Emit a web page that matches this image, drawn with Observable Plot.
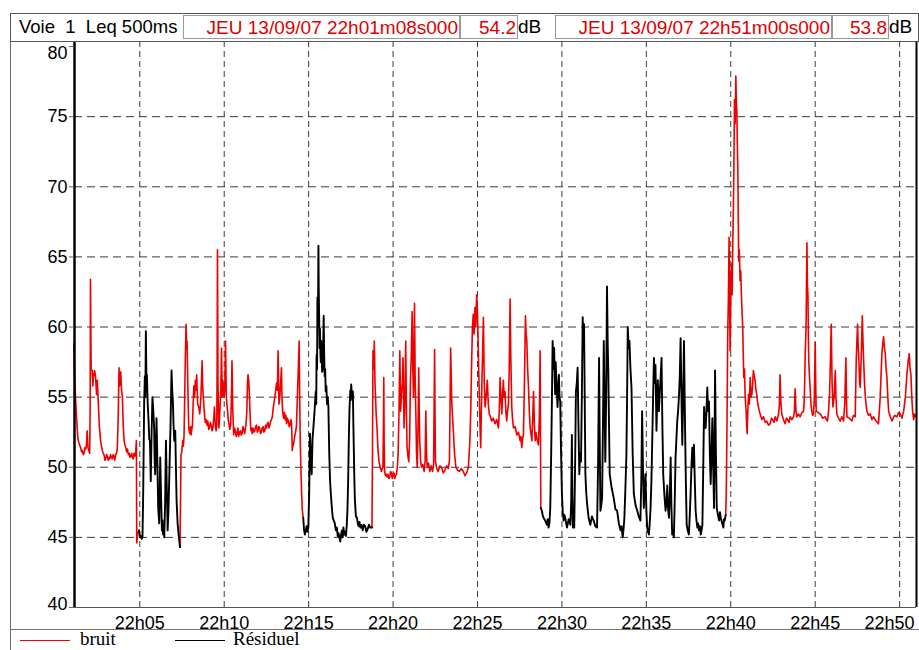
<!DOCTYPE html>
<html>
<head>
<meta charset="utf-8">
<script src="https://cdn.jsdelivr.net/npm/d3@7"></script>
<script src="https://cdn.jsdelivr.net/npm/@observablehq/plot@0.6"></script>
<style>
  html, body { margin: 0; padding: 0; background: #fff; }
  #wrap { position: relative; width: 919px; height: 650px; overflow: hidden; font-family: 'Liberation Sans', Arial, sans-serif; }
  #frameL { position: absolute; left: 10px; top: 13px; width: 0; height: 640px; border-left: 1.5px solid #666; }
  #header { position: absolute; left: 10px; top: 13px; width: 907px; height: 27px; border: 1.5px solid #555; background: #fff; font-size: 19px; }
  .cell { position: absolute; top: 1px; height: 24px; line-height: 24px; white-space: nowrap; overflow: hidden; box-sizing: border-box; }
  .box { border: 1px solid #999; }
  .red { color: #e00000; text-align: right; padding-right: 1px; }
  #plot { position: absolute; left: 0; top: 41px; }
  #sep { position: absolute; left: 10px; top: 629px; width: 909px; height: 0; border-top: 1.5px solid #777; }
  .leg { position: absolute; top: 629px; font-family: 'Liberation Serif', 'Times New Roman', serif; font-size: 19px; line-height: 20px; }
  .legline { position: absolute; top: 640px; height: 0; border-top: 1.5px solid; }
</style>
</head>
<body>
<div id="wrap">
  <div id="frameL"></div>
  <div id="plot"></div>
  <div id="header"></div>
  <div id="sep"></div>
  <div id="legend"></div>
</div>
<script>
// ---- header texts ----
const channelLabel = "Voie\u00a0\u00a01\u00a0\u00a0Leq 500ms";
const startStamp = "JEU 13/09/07 22h01m08s000";
const startLevel = "54.2";
const endStamp = "JEU 13/09/07 22h51m00s000";
const endLevel = "53.8";
const unit = "dB";

// ---- axes ----
const xStart = 1 + 8 / 60;   // 22h01m08s (minutes after 22h00)
const xEnd = 51;             // 22h51m00s
const xTicks = [5, 10, 15, 20, 25, 30, 35, 40, 45, 50];
const yTicks = [40, 45, 50, 55, 60, 65, 70, 75, 80];
const yGrid = [45, 50, 55, 60, 65, 70, 75];

// ---- legend ----
const seriesNames = ["bruit", "Résiduel"];
const seriesColors = ["#ee0000", "#000000"];

// ---- measured Leq 500 ms: [minutes after 22h00, dB], in time order ----
const bruit1 = [[1.09,58.8],[1.15,56.2],[1.19,55.0],[1.25,53.6],[1.33,52.1],[1.38,51.8],[1.43,51.6],[1.50,51.4],[1.55,51.1],[1.59,51.2],[1.65,50.9],[1.70,51.0],[1.75,51.4],[1.80,51.3],[1.85,51.7],[1.88,52.6],[1.93,51.4],[1.98,51.2],[2.03,51.0],[2.06,54.0],[2.08,63.4],[2.10,60.0],[2.12,57.0],[2.18,56.9],[2.22,55.8],[2.25,56.4],[2.32,56.9],[2.38,56.5],[2.44,55.2],[2.48,56.2],[2.54,54.7],[2.60,53.0],[2.68,51.9],[2.73,51.5],[2.78,51.2],[2.83,51.0],[2.88,50.9],[2.93,50.5],[2.98,50.6],[3.03,50.9],[3.08,50.8],[3.13,50.5],[3.18,50.7],[3.22,50.6],[3.27,50.9],[3.32,50.7],[3.37,50.6],[3.42,50.9],[3.47,50.8],[3.52,50.5],[3.57,50.9],[3.62,51.0],[3.67,51.3],[3.72,53.5],[3.77,57.1],[3.80,55.8],[3.82,56.0],[3.87,56.8],[3.92,55.5],[3.97,55.0],[4.02,53.0],[4.07,51.9],[4.12,51.6],[4.17,51.4],[4.22,51.1],[4.27,51.3],[4.32,50.9],[4.37,51.0],[4.42,50.7],[4.47,50.8],[4.52,51.0],[4.56,50.7],[4.61,50.6],[4.66,51.0],[4.71,50.8],[4.76,51.1],[4.80,51.9],[4.82,44.6],[4.88,45.3],[4.96,45.5]];
const residuel1 = [[4.96,45.5],[5.01,45.0],[5.06,45.1],[5.11,44.9],[5.16,45.0],[5.20,48.0],[5.26,54.7],[5.30,56.5],[5.33,55.0],[5.36,59.7],[5.40,55.5],[5.42,56.6],[5.47,54.5],[5.52,53.3],[5.56,52.0],[5.60,51.9],[5.65,49.0],[5.70,52.5],[5.75,55.0],[5.80,54.0],[5.85,52.8],[5.88,50.5],[5.91,49.5],[5.95,51.0],[5.99,53.5],[6.04,50.5],[6.09,47.1],[6.15,46.0],[6.21,50.7],[6.26,48.0],[6.31,45.5],[6.35,46.2],[6.38,45.2],[6.42,45.8],[6.45,45.0],[6.50,47.5],[6.55,51.9],[6.60,48.5],[6.65,45.5],[6.70,47.0],[6.75,49.5],[6.82,53.0],[6.88,56.9],[6.92,55.5],[6.96,54.7],[7.00,53.0],[7.04,51.9],[7.10,52.6],[7.14,50.0],[7.18,47.6],[7.24,46.0],[7.30,45.2],[7.38,44.3]];
const bruit2 = [[7.38,44.3],[7.42,48.5],[7.44,50.9],[7.49,51.1],[7.54,51.9],[7.58,51.5],[7.62,52.2],[7.66,55.0],[7.70,58.0],[7.74,60.2],[7.77,58.5],[7.80,59.0],[7.85,55.5],[7.90,52.8],[7.94,52.5],[7.97,52.4],[8.01,52.9],[8.04,52.3],[8.08,52.7],[8.12,53.0],[8.16,54.5],[8.20,55.8],[8.25,55.0],[8.29,56.2],[8.33,55.5],[8.37,56.6],[8.43,54.5],[8.49,54.3],[8.55,53.8],[8.62,55.0],[8.69,57.6],[8.72,56.0],[8.76,55.0],[8.83,53.8],[8.88,53.2],[8.93,53.4],[8.98,53.0],[9.03,53.3],[9.08,52.7],[9.13,52.8],[9.18,53.2],[9.23,53.0],[9.28,52.6],[9.33,52.8],[9.38,53.5],[9.42,54.3],[9.47,53.0],[9.52,52.6],[9.56,53.0],[9.58,57.0],[9.60,65.5],[9.62,60.0],[9.63,56.0],[9.68,52.8],[9.72,53.5],[9.76,54.5],[9.80,55.5],[9.84,58.5],[9.88,55.0],[9.92,56.2],[9.96,55.3],[10.00,55.0],[10.04,56.0],[10.08,59.0],[10.12,55.2],[10.16,54.5],[10.20,54.0],[10.24,53.4],[10.28,53.1],[10.33,52.7],[10.38,53.0],[10.42,54.5],[10.46,57.6],[10.51,54.0],[10.56,52.3],[10.61,52.8],[10.66,52.6],[10.71,52.2],[10.76,52.4],[10.81,52.8],[10.86,52.2],[10.91,52.5],[10.96,52.6],[11.01,52.3],[11.06,52.4],[11.11,52.9],[11.16,52.7],[11.21,52.4],[11.26,52.8],[11.30,53.2],[11.34,54.0],[11.38,56.0],[11.41,56.6],[11.45,56.2],[11.48,55.5],[11.52,54.2],[11.55,53.3],[11.58,52.6],[11.62,52.8],[11.66,52.4],[11.71,52.8],[11.76,52.5],[11.81,52.6],[11.86,52.9],[11.91,53.0],[11.96,52.5],[12.00,52.6],[12.05,52.9],[12.10,52.8],[12.15,52.4],[12.20,52.5],[12.25,52.8],[12.30,52.9],[12.35,52.5],[12.40,52.6],[12.45,53.0],[12.50,52.8],[12.55,53.1],[12.60,53.2],[12.65,52.8],[12.70,53.0],[12.75,53.3],[12.80,53.4],[12.85,53.6],[12.90,54.2],[12.95,54.6],[13.00,55.0],[13.05,55.5],[13.10,56.0],[13.15,55.5],[13.19,58.3],[13.22,56.0],[13.24,54.5],[13.29,55.0],[13.34,56.0],[13.39,57.1],[13.42,55.0],[13.46,54.0],[13.50,53.6],[13.53,53.5],[13.57,53.9],[13.61,53.4],[13.65,53.7],[13.69,53.1],[13.74,53.5],[13.80,53.3],[13.85,52.9],[13.90,53.0],[13.95,53.4],[13.99,53.1],[14.03,51.2],[14.06,51.5],[14.10,51.6],[14.15,52.0],[14.19,52.3],[14.24,52.6],[14.28,53.0],[14.32,54.5],[14.36,56.0],[14.40,57.5],[14.44,59.0],[14.47,55.0],[14.50,52.0],[14.54,50.0],[14.58,48.3],[14.62,47.0],[14.68,46.4]];
const residuel2 = [[14.68,46.4],[14.73,45.5],[14.78,45.2],[14.83,45.5],[14.88,45.8],[14.93,45.4],[14.98,45.7],[15.03,48.0],[15.08,52.4],[15.13,50.5],[15.18,49.5],[15.23,52.0],[15.28,52.8],[15.35,54.0],[15.42,55.4],[15.45,54.5],[15.47,58.0],[15.50,57.0],[15.52,62.1],[15.55,60.0],[15.58,65.8],[15.60,62.5],[15.62,61.0],[15.65,58.5],[15.67,59.9],[15.70,58.0],[15.72,57.5],[15.75,59.0],[15.77,58.1],[15.80,56.8],[15.83,57.0],[15.86,58.5],[15.89,60.8],[15.92,58.0],[15.95,56.5],[15.98,57.0],[16.01,55.4],[16.05,55.8],[16.09,54.5],[16.13,55.0],[16.17,54.3],[16.22,51.0],[16.27,49.0],[16.31,48.2],[16.35,47.5],[16.39,46.9],[16.43,46.4],[16.49,46.2],[16.55,46.0],[16.61,45.5],[16.67,45.7],[16.72,45.1],[16.77,45.3],[16.82,45.0],[16.87,44.7],[16.92,45.2],[16.97,45.5],[17.02,45.0],[17.06,45.7],[17.11,45.2],[17.16,45.4],[17.21,45.1],[17.26,45.9],[17.30,47.0],[17.34,49.0],[17.38,52.0],[17.42,54.2],[17.47,55.5],[17.50,54.8],[17.52,55.9],[17.57,55.0],[17.62,55.4],[17.65,53.0],[17.68,51.0],[17.71,49.0],[17.74,47.6],[17.80,46.5],[17.86,46.4],[17.91,46.0],[17.96,45.8],[18.01,46.1],[18.06,45.7],[18.13,45.9],[18.20,45.5],[18.27,45.9],[18.35,45.8],[18.42,45.4],[18.50,45.6],[18.57,45.9],[18.65,45.7],[18.75,45.7]];
const bruit3 = [[18.75,45.7],[18.78,50.7],[18.81,58.3],[18.85,57.0],[18.89,59.0],[18.93,56.0],[18.97,54.7],[19.01,53.5],[19.05,52.8],[19.11,51.2],[19.17,50.4],[19.24,50.0],[19.31,49.7],[19.36,49.9],[19.40,50.0],[19.43,53.0],[19.45,56.4],[19.47,52.0],[19.50,49.7],[19.55,49.4],[19.60,49.5],[19.65,49.3],[19.70,49.5],[19.75,49.2],[19.80,49.3],[19.85,49.7],[19.90,49.6],[19.95,49.2],[20.00,49.5],[20.05,49.6],[20.10,49.2],[20.15,49.4],[20.20,49.5],[20.25,50.0],[20.30,50.9],[20.35,54.0],[20.40,58.3],[20.45,54.0],[20.50,55.2],[20.55,56.0],[20.59,57.8],[20.65,52.8],[20.70,55.0],[20.75,59.0],[20.79,54.0],[20.83,51.4],[20.88,50.8],[20.93,50.4],[20.98,52.0],[21.03,56.2],[21.08,58.0],[21.13,61.1],[21.17,57.0],[21.21,55.0],[21.24,58.0],[21.27,61.7],[21.31,56.0],[21.35,53.8],[21.39,51.0],[21.43,50.0],[21.48,53.0],[21.52,57.1],[21.55,54.0],[21.58,51.9],[21.63,50.5],[21.68,50.0],[21.76,50.2],[21.84,49.7],[21.90,50.5],[21.94,54.0],[21.98,51.0],[22.02,50.0],[22.10,50.3],[22.18,49.7],[22.26,50.1],[22.34,49.7],[22.40,50.2],[22.46,58.4],[22.49,53.0],[22.51,50.4],[22.59,49.9],[22.67,49.7],[22.77,50.1],[22.87,50.0],[22.97,49.6],[23.07,49.8],[23.17,50.1],[23.27,49.9],[23.34,50.5],[23.41,58.5],[23.48,54.5],[23.56,52.8],[23.64,51.0],[23.72,50.0],[23.82,49.8],[23.92,49.7],[24.04,49.9],[24.16,49.7],[24.26,49.4],[24.36,49.6],[24.46,50.0],[24.55,51.9],[24.60,54.0],[24.65,57.3],[24.70,60.0],[24.75,60.9],[24.80,59.5],[24.85,61.4],[24.90,60.0],[24.95,62.3],[25.00,61.0],[25.03,59.5],[25.07,57.0],[25.11,55.0],[25.15,53.0],[25.19,51.4],[25.23,54.0],[25.27,56.6],[25.31,58.5],[25.35,60.7],[25.40,56.0],[25.45,54.3],[25.51,55.0],[25.58,56.2],[25.64,54.5],[25.70,53.8],[25.77,53.6],[25.84,53.3],[25.94,53.5],[26.04,53.1],[26.14,53.4],[26.24,52.8],[26.29,54.0],[26.34,56.4],[26.39,55.0],[26.44,53.8],[26.48,55.0],[26.53,56.2],[26.58,55.0],[26.63,55.4],[26.68,54.0],[26.73,53.3],[26.78,54.0],[26.83,54.5],[26.88,57.0],[26.93,62.0],[26.97,58.0],[27.03,54.3],[27.08,53.4],[27.13,52.8],[27.23,52.9],[27.33,52.3],[27.43,52.5],[27.52,51.9],[27.57,52.2],[27.62,51.4],[27.67,52.0],[27.72,52.3],[27.78,56.0],[27.84,60.8],[27.88,59.5],[27.92,59.0],[27.97,57.0],[28.02,55.7],[28.07,54.0],[28.12,52.8],[28.17,52.4],[28.22,51.9],[28.27,53.5],[28.32,55.4],[28.37,53.0],[28.42,51.9],[28.46,52.5],[28.51,52.1],[28.56,51.8],[28.61,51.6],[28.66,53.5],[28.71,58.3],[28.75,47.1]];
const residuel3 = [[28.75,47.1],[28.81,46.9],[28.86,46.6],[28.91,46.4],[29.01,46.2],[29.11,45.9],[29.16,46.3],[29.21,45.7],[29.26,46.0],[29.31,47.1],[29.37,51.4],[29.41,55.0],[29.45,59.0],[29.50,57.0],[29.54,58.5],[29.57,56.5],[29.60,55.2],[29.63,57.5],[29.66,56.6],[29.70,55.5],[29.74,54.3],[29.78,55.5],[29.82,56.6],[29.86,55.0],[29.90,54.7],[29.95,51.0],[30.00,48.1],[30.05,46.8],[30.10,46.2],[30.15,46.6],[30.20,46.4],[30.25,46.0],[30.30,45.7],[30.40,46.3],[30.50,45.9],[30.55,47.5],[30.59,52.3],[30.62,48.0],[30.65,45.7],[30.69,46.3],[30.73,45.7],[30.78,50.0],[30.83,55.4],[30.88,56.0],[30.93,57.1],[30.98,53.0],[31.03,49.5],[31.08,51.0],[31.13,50.4],[31.18,55.0],[31.23,60.7],[31.27,59.0],[31.31,60.2],[31.35,55.0],[31.39,49.5],[31.44,48.2],[31.49,47.4],[31.58,46.4],[31.68,45.9],[31.78,46.5],[31.88,46.2],[31.98,45.8],[32.08,45.7],[32.14,50.0],[32.20,57.8],[32.24,52.0],[32.28,46.9],[32.33,47.3],[32.38,47.8],[32.43,53.0],[32.48,59.0],[32.52,55.0],[32.57,50.4],[32.62,55.0],[32.67,62.9],[32.71,59.0],[32.75,56.6],[32.79,53.0],[32.83,49.5],[32.95,48.5],[33.07,47.8],[33.17,47.0],[33.27,46.9],[33.37,46.0],[33.47,45.5],[33.53,45.8],[33.60,45.0],[33.65,45.6],[33.70,46.4],[33.76,48.5],[33.82,50.9],[33.86,55.0],[33.90,60.0],[33.95,58.5],[34.00,59.0],[34.06,57.0],[34.12,55.7],[34.19,51.0],[34.26,48.1],[34.36,47.3],[34.46,46.9],[34.55,46.5],[34.65,46.2],[34.70,49.0],[34.75,54.0],[34.80,50.0],[34.85,47.1],[34.90,48.5],[34.95,49.5],[35.00,47.0],[35.05,45.7],[35.10,45.4],[35.15,45.2],[35.20,46.0],[35.25,47.1],[35.30,49.0],[35.35,51.9],[35.40,55.0],[35.45,57.8],[35.50,56.0],[35.54,57.3],[35.57,55.0],[35.60,52.6],[35.64,54.5],[35.68,56.2],[35.74,54.0],[35.80,55.4],[35.85,56.5],[35.90,57.8],[35.95,53.0],[36.00,49.5],[36.07,48.0],[36.14,46.9],[36.19,47.5],[36.24,48.7],[36.29,47.0],[36.34,46.4],[36.39,48.0],[36.44,50.7],[36.48,47.5],[36.53,45.2],[36.58,45.5],[36.63,45.0],[36.68,47.5],[36.73,50.7],[36.78,52.0],[36.83,53.3],[36.88,54.0],[36.93,55.0],[36.98,56.5],[37.03,59.2],[37.08,55.0],[37.13,51.6],[37.18,55.0],[37.23,59.0],[37.26,56.0],[37.29,53.1],[37.34,49.0],[37.39,45.9],[37.45,45.5],[37.52,45.2],[37.57,46.5],[37.62,48.1],[37.67,50.0],[37.72,51.4],[37.77,50.0],[37.82,51.6],[37.87,49.0],[37.92,46.9],[37.97,46.2],[38.02,45.7],[38.07,46.0],[38.12,45.5],[38.17,45.8],[38.22,45.2],[38.27,45.5],[38.32,45.9],[38.37,50.0],[38.42,54.3],[38.47,53.0],[38.51,52.8],[38.56,54.0],[38.61,55.7],[38.66,54.0],[38.71,54.7],[38.76,51.0],[38.81,48.8],[38.86,51.0],[38.91,53.5],[38.96,50.0],[39.01,47.1],[39.04,52.0],[39.07,56.9],[39.12,51.0],[39.17,47.1],[39.24,46.6],[39.31,46.2],[39.36,46.8],[39.41,46.4],[39.49,46.0],[39.56,45.7],[39.60,46.3],[39.64,46.2],[39.70,46.6]];
const bruit4 = [[39.70,46.6],[39.73,48.0],[39.76,50.9],[39.79,55.0],[39.82,59.5],[39.86,62.0],[39.90,66.4],[39.93,62.0],[39.96,58.3],[39.99,61.0],[40.02,63.8],[40.05,64.5],[40.08,62.3],[40.12,66.0],[40.16,68.8],[40.19,72.0],[40.22,76.2],[40.26,74.5],[40.30,77.9],[40.33,76.0],[40.36,75.4],[40.39,73.0],[40.42,71.1],[40.45,67.0],[40.47,64.7],[40.51,65.5],[40.55,63.3],[40.59,64.0],[40.63,62.3],[40.67,61.0],[40.71,60.0],[40.74,58.0],[40.77,56.4],[40.81,57.0],[40.85,55.2],[40.88,54.5],[40.91,54.0],[40.94,53.0],[40.97,52.4],[41.01,54.0],[41.05,55.2],[41.10,54.5],[41.15,56.4],[41.20,55.0],[41.25,55.2],[41.30,56.0],[41.34,56.9],[41.39,56.5],[41.44,56.2],[41.49,55.5],[41.54,55.2],[41.59,54.6],[41.64,54.3],[41.69,54.0],[41.74,53.8],[41.84,53.4],[41.94,53.6],[42.04,53.2],[42.13,53.3],[42.23,53.0],[42.33,53.1],[42.41,53.5],[42.48,53.4],[42.56,53.2],[42.63,53.6],[42.73,53.3],[42.83,53.8],[42.88,54.5],[42.92,56.6],[42.97,54.5],[43.02,53.8],[43.12,53.4],[43.22,53.1],[43.30,53.5],[43.37,53.4],[43.45,53.2],[43.52,53.6],[43.62,53.4],[43.72,53.6],[43.77,54.0],[43.81,55.6],[43.86,54.0],[43.91,53.6],[44.01,53.8],[44.11,53.6],[44.21,53.9],[44.31,54.0],[44.36,55.0],[44.41,58.1],[44.46,60.0],[44.51,66.0],[44.54,63.0],[44.57,62.3],[44.60,59.0],[44.62,57.6],[44.66,56.5],[44.70,55.7],[44.75,54.5],[44.80,54.0],[44.85,53.7],[44.90,53.8],[44.95,55.0],[45.00,58.9],[45.03,56.0],[45.06,54.0],[45.18,53.9],[45.30,53.8],[45.44,53.5],[45.59,53.6],[45.66,53.4],[45.73,53.3],[45.79,54.0],[45.85,55.2],[45.90,57.5],[45.95,60.2],[46.00,56.0],[46.05,54.3],[46.12,55.0],[46.19,56.9],[46.23,55.0],[46.28,53.8],[46.38,53.5],[46.48,53.3],[46.58,53.6],[46.68,53.3],[46.75,54.5],[46.82,57.8],[46.85,55.0],[46.88,53.6],[47.02,53.5],[47.17,53.3],[47.27,53.7],[47.37,53.6],[47.43,57.6],[47.47,59.0],[47.51,60.2],[47.55,58.5],[47.59,57.6],[47.63,56.0],[47.67,55.7],[47.73,58.0],[47.79,60.8],[47.83,59.0],[47.87,57.6],[47.92,56.0],[47.96,55.2],[48.01,54.5],[48.06,54.0],[48.16,53.7],[48.26,53.8],[48.36,53.4],[48.46,53.6],[48.60,53.3],[48.75,53.1],[48.85,55.0],[48.95,58.1],[49.00,58.8],[49.05,59.3],[49.10,58.5],[49.15,58.1],[49.20,57.0],[49.25,56.4],[49.30,55.0],[49.35,54.0],[49.45,53.6],[49.55,53.3],[49.70,53.7],[49.84,53.6],[49.94,53.9],[50.04,53.8],[50.14,53.5],[50.24,54.0],[50.34,55.0],[50.43,56.6],[50.50,57.5],[50.57,58.1],[50.62,57.0],[50.67,56.6],[50.72,55.0],[50.77,54.0],[50.83,53.4],[50.88,53.8],[50.93,53.6],[51.00,53.8]];

const segments = [
  {kind: "bruit", pts: bruit1}, {kind: "Résiduel", pts: residuel1},
  {kind: "bruit", pts: bruit2}, {kind: "Résiduel", pts: residuel2},
  {kind: "bruit", pts: bruit3}, {kind: "Résiduel", pts: residuel3},
  {kind: "bruit", pts: bruit4}
];
const rows = segments.flatMap((s, j) => s.pts.map(([t, db]) => ({t, db, kind: s.kind, seg: j})));

const fmtX = d => "22h" + String(d).padStart(2, "0");
const lastX = xTicks[xTicks.length - 1];

const chart = Plot.plot({
  width: 919,
  height: 589,
  marginLeft: 74,
  marginRight: 3,
  marginTop: 0,
  marginBottom: 23,
  style: {fontFamily: "'Liberation Sans', Arial, sans-serif", fontSize: "18px", color: "#000", background: "transparent", overflow: "visible"},
  x: {domain: [xStart, xEnd]},
  y: {domain: [40, 80.36]},
  color: {domain: seriesNames, range: seriesColors},
  marks: [
    Plot.ruleY(yGrid, {stroke: "#3a3a3a", strokeDasharray: "8,5", strokeWidth: 1}),
    Plot.ruleX(xTicks, {stroke: "#3a3a3a", strokeDasharray: "6,4", strokeWidth: 1}),
    Plot.line(rows.filter(d => d.kind === "bruit"), {x: "t", y: "db", z: "seg", stroke: "kind", strokeWidth: 1.6, strokeLinejoin: "round"}),
    Plot.line(rows.filter(d => d.kind !== "bruit"), {x: "t", y: "db", z: "seg", stroke: "kind", strokeWidth: 1.9, strokeLinejoin: "round"}),
    Plot.ruleY([40], {stroke: "#555", strokeWidth: 1.2}),
    Plot.ruleX([xStart], {stroke: "#000", strokeWidth: 2.5}),
    Plot.ruleX([xEnd], {stroke: "#000", strokeWidth: 2}),
    Plot.axisX(xTicks, {tickSize: 0, tickPadding: 9, label: null, fontSize: 18,
      tickFormat: d => d === lastX ? "" : fmtX(d)}),
    Plot.text([lastX], {x: d => d, text: fmtX, frameAnchor: "bottom", textAnchor: "end", lineAnchor: "top", dy: 9, dx: 15, fontSize: 18, fill: "#000"}),
    Plot.axisY(yTicks, {tickSize: 5, tickPadding: 2, label: null, fontSize: 18, stroke: "#666",
      tickFormat: d => (d === 40 || d === 80) ? "" : String(d)}),
    Plot.text([80], {y: d => d, frameAnchor: "left", dx: -7, textAnchor: "end", lineAnchor: "top", dy: 0, fontSize: 18, fill: "#000"}),
    Plot.text([40], {y: d => d, frameAnchor: "left", dx: -7, textAnchor: "end", lineAnchor: "bottom", dy: 2, fontSize: 18, fill: "#000"})
  ]
});
document.getElementById("plot").appendChild(chart);

// ---- header ----
const header = document.getElementById("header");
const cells = [
  {text: channelLabel, left: 8, width: 162, cls: "", size: 18.5},
  {text: startStamp, left: 172, width: 277, cls: "box red"},
  {text: startLevel, left: 449, width: 58, cls: "box red"},
  {text: unit, left: 507, width: 30, cls: ""},
  {text: endStamp, left: 544, width: 277, cls: "box red"},
  {text: endLevel, left: 821, width: 57, cls: "box red"},
  {text: unit, left: 878, width: 28, cls: ""}
];
for (const c of cells) {
  const d = document.createElement("div");
  d.className = "cell " + c.cls;
  d.style.left = c.left + "px";
  d.style.width = c.width + "px";
  if (c.size) d.style.fontSize = c.size + "px";
  d.textContent = c.text;
  header.appendChild(d);
}

// ---- legend ----
const legend = document.getElementById("legend");
const legPos = [{line: 20, text: 80}, {line: 175, text: 233}];
seriesNames.forEach((name, i) => {
  const l = document.createElement("div");
  l.className = "legline";
  l.style.left = legPos[i].line + "px";
  l.style.width = "50px";
  l.style.borderColor = seriesColors[i];
  legend.appendChild(l);
  const t = document.createElement("div");
  t.className = "leg";
  t.style.left = legPos[i].text + "px";
  t.textContent = name;
  legend.appendChild(t);
});
</script>
</body>
</html>
